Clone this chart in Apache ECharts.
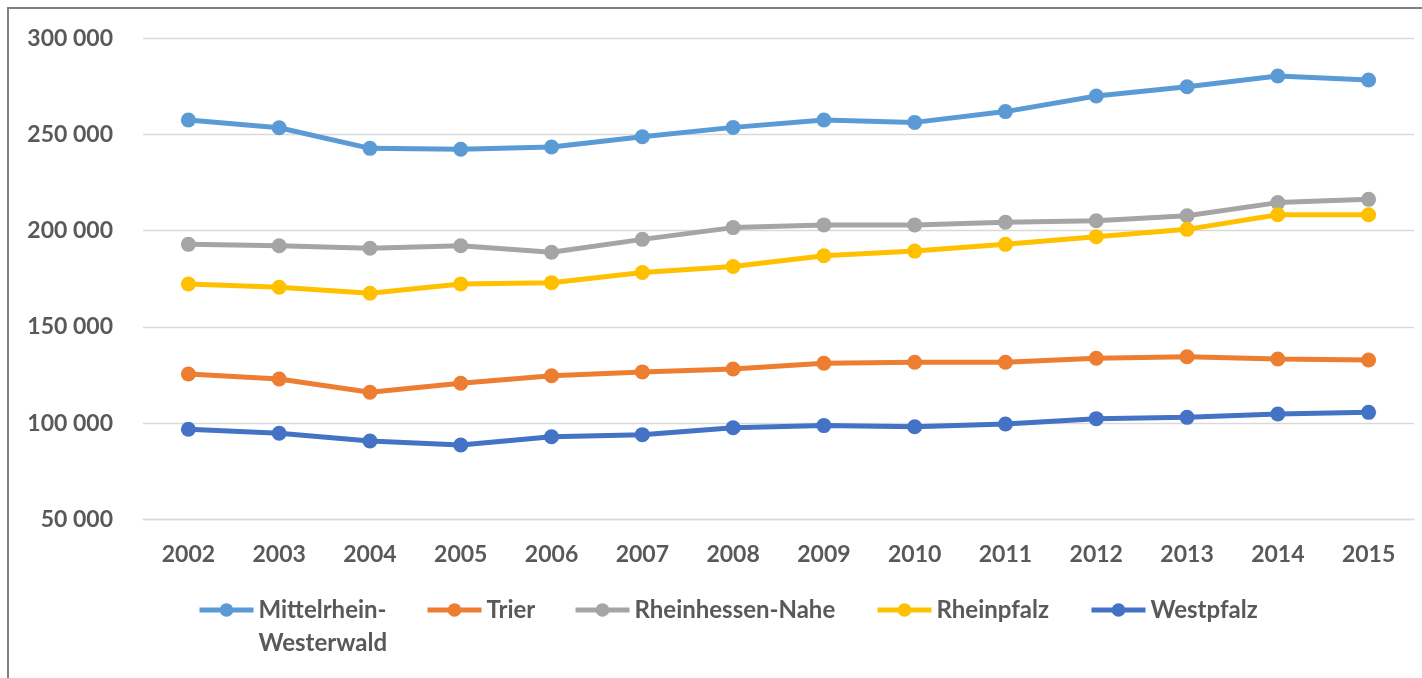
<!DOCTYPE html>
<html>
<head>
<meta charset="utf-8">
<script src="https://cdn.jsdelivr.net/npm/echarts@6/dist/echarts.min.js"></script>
<style>html,body{margin:0;padding:0;background:#fff}#c{width:1422px;height:678px}</style>
</head>
<body>
<div id="c"></div>
<script>
const years = ['2002','2003','2004','2005','2006','2007','2008','2009','2010','2011','2012','2013','2014','2015'];
const mittelrhein = [257500,253500,242800,242300,243500,248800,253700,257500,256300,261900,270000,274800,280400,278300];
const trier = [125500,122900,116000,120700,124600,126600,128100,131100,131600,131600,133700,134500,133300,132800];
const rheinhessen = [192900,192200,190900,192200,188800,195500,201600,203000,203000,204400,205200,207800,214600,216300];
const rheinpfalz = [172300,170600,167500,172300,173000,178300,181400,187000,189400,192900,196900,200700,208300,208300];
const westpfalz = [96800,94700,90700,88600,92900,94000,97600,98700,98100,99500,102300,103000,104700,105600];
const names = ['Mittelrhein-Westerwald','Trier','Rheinhessen-Nahe','Rheinpfalz','Westpfalz'];
const colors = ['#5B9BD5','#ED7D31','#A5A5A5','#FFC000','#4472C4'];
const values = [mittelrhein, trier, rheinhessen, rheinpfalz, westpfalz];

const FONT = 'Lato';
const TXT = '#595959';
const legendLeft = [197, 425, 573, 875, 1089];

const legends = names.map((n, i) => {
  const lg = {
    data: [n], left: legendLeft[i], top: 598, padding: 0,
    itemWidth: 54, itemHeight: 17, itemGap: 5,
    lineStyle: {width: 5},
    textStyle: {color: TXT, fontFamily: FONT, fontWeight: 'bold', fontSize: 24, lineHeight: 24}
  };
  if (i === 0) {
    lg.formatter = () => ' \nMittelrhein-\nWesterwald';
    lg.textStyle.lineHeight = 33;
    lg.top = 560.5;
  }
  return lg;
});

const chart = echarts.init(document.getElementById('c'));
chart.setOption({
  animation: false,
  backgroundColor: '#fff',
  graphic: [{type: 'rect', shape: {x: 8, y: 8, width: 1430, height: 690}, style: {fill: 'none', stroke: '#7f7f7f', lineWidth: 2}, silent: true}],
  grid: {left: 143, right: 8, top: 38.3, bottom: 158.7},
  legend: legends,
  xAxis: {
    type: 'category', data: years, boundaryGap: true,
    axisLine: {show: true, lineStyle: {color: '#d9d9d9', width: 1.3}},
    axisTick: {show: false},
    axisLabel: {color: TXT, fontFamily: FONT, fontWeight: 'bold', fontSize: 23, margin: 24}
  },
  yAxis: {
    type: 'value', min: 50000, max: 300000, interval: 50000,
    axisLine: {show: false}, axisTick: {show: false},
    splitLine: {lineStyle: {color: '#d9d9d9', width: 1.3}},
    axisLabel: {color: TXT, fontFamily: FONT, fontWeight: 'bold', fontSize: 23, margin: 30,
      formatter: v => String(v).replace(/\B(?=(\d{3})+(?!\d))/g, ' ')}
  },
  series: names.map((n, i) => ({
    name: n, type: 'line', data: values[i], symbol: 'circle', symbolSize: 15,
    color: colors[i], lineStyle: {width: 5, color: colors[i]},
    itemStyle: {color: colors[i]}
  }))
});
</script>
</body>
</html>
